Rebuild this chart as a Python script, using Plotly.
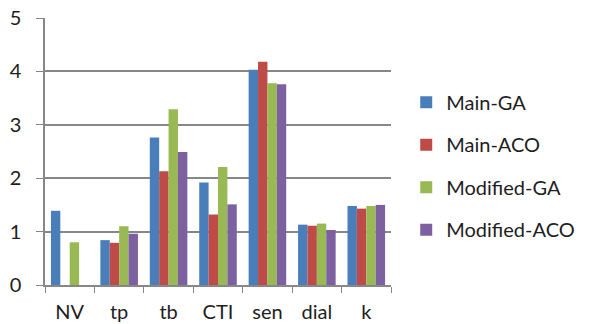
import plotly.graph_objects as go

categories = ["NV", "tp", "tb", "CTI", "sen", "dial", "k"]
main_ga = [1.39, 0.84, 2.76, 1.92, 4.03, 1.13, 1.48]
main_aco = [0.0, 0.79, 2.13, 1.32, 4.18, 1.11, 1.43]
modified_ga = [0.80, 1.10, 3.29, 2.21, 3.78, 1.15, 1.48]
modified_aco = [0.0, 0.96, 2.49, 1.51, 3.76, 1.03, 1.50]
y_ticks = [0, 1, 2, 3, 4, 5]

series = [
    ("Main-GA", main_ga, "#4A7EBB"),
    ("Main-ACO", main_aco, "#BE4B48"),
    ("Modified-GA", modified_ga, "#98B954"),
    ("Modified-ACO", modified_aco, "#7D60A0"),
]

font_family = "Lato, 'Open Sans', sans-serif"
grid = "#878787"

fig = go.Figure()
for name, vals, color in series:
    fig.add_trace(go.Bar(
        x=categories, y=vals, name=name, legendgroup=name,
        marker=dict(color=color, line=dict(width=0)),
    ))

fig.update_layout(
    width=592, height=324,
    margin=dict(l=45, r=197, t=18, b=39),
    paper_bgcolor="white", plot_bgcolor="white",
    barmode="group", bargap=0.24, bargroupgap=0,
    font=dict(family=font_family, size=20, color="#1E1E1E"),
    showlegend=True,
    legend=dict(
        x=1.044, xanchor="left", xref="paper",
        y=0.445, yanchor="middle",
        font=dict(size=20, color="#1E1E1E"),
        tracegroupgap=13.5,
        bgcolor="rgba(0,0,0,0)",
    ),
    xaxis=dict(
        showline=True, linecolor=grid, linewidth=1.5,
        ticks="outside", tickson="boundaries", ticklen=6, tickcolor=grid,
        tickfont=dict(size=20), ticklabelstandoff=8,
        showgrid=False, automargin=False,
    ),
    yaxis=dict(
        range=[0, 5], tickvals=y_ticks,
        showline=True, linecolor=grid, linewidth=1.5,
        ticks="outside", ticklen=7, tickcolor=grid,
        showgrid=True, gridcolor=grid, gridwidth=1.5,
        zeroline=False, automargin=False,
        tickfont=dict(size=20), ticklabelstandoff=11,
    ),
)

fig.write_html("out.html")
